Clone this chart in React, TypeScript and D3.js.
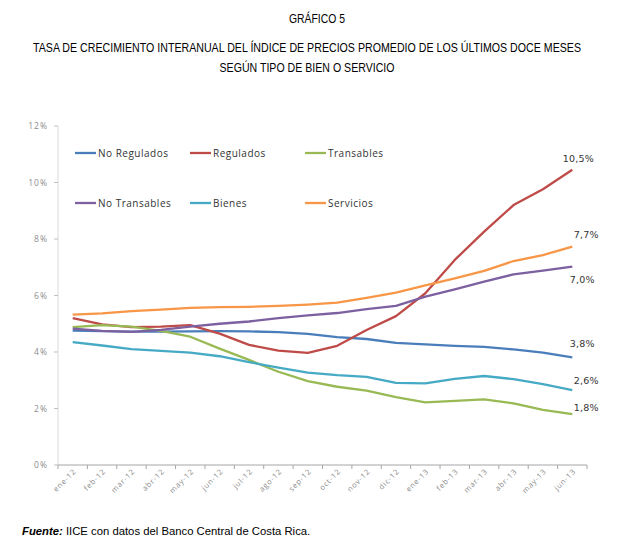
import React from "react";
import * as d3 from "d3";

const categories = ["ene-12","feb-12","mar-12","abr-12","may-12","jun-12","jul-12","ago-12","sep-12","oct-12","nov-12","dic-12","ene-13","feb-13","mar-13","abr-13","may-13","jun-13"];
const noRegulados = [4.76,4.74,4.72,4.72,4.73,4.74,4.73,4.7,4.64,4.53,4.46,4.32,4.27,4.22,4.18,4.09,3.98,3.81];
const regulados = [5.2,4.98,4.88,4.9,4.95,4.65,4.25,4.05,3.97,4.22,4.78,5.27,6.08,7.26,8.26,9.2,9.76,10.45];
const transables = [4.88,4.95,4.9,4.75,4.54,4.12,3.72,3.3,2.97,2.77,2.63,2.4,2.22,2.27,2.32,2.18,1.95,1.8];
const noTransables = [4.83,4.75,4.71,4.78,4.9,5.0,5.08,5.2,5.3,5.38,5.52,5.63,5.96,6.22,6.49,6.75,6.88,7.02];
const bienes = [4.35,4.23,4.1,4.04,3.98,3.85,3.64,3.45,3.27,3.18,3.12,2.91,2.89,3.05,3.15,3.04,2.86,2.65];
const servicios = [5.32,5.37,5.45,5.5,5.56,5.59,5.6,5.63,5.68,5.75,5.92,6.1,6.36,6.61,6.87,7.22,7.43,7.73];
const yTicks = [0,2,4,6,8,10,12];
const endLabels = ["3,8%","10,5%","1,8%","7,0%","2,6%","7,7%"];

const series = [
  { name: "No Regulados", values: noRegulados, color: "#4a7ebb" },
  { name: "Regulados", values: regulados, color: "#be4b48" },
  { name: "Transables", values: transables, color: "#98b954" },
  { name: "No Transables", values: noTransables, color: "#7d60a0" },
  { name: "Bienes", values: bienes, color: "#46aac5" },
  { name: "Servicios", values: servicios, color: "#f79646" },
];

const labelOffsets = [
  [10, -13], [6, -11], [14, -6], [10, 13], [14, -9], [14, -12],
];
const legendPos = [
  [75, 153], [190, 153], [305, 153], [75, 203], [190, 203], [305, 203],
];

const SX = 0.86;

export default function App() {
  const W = 634, H = 553;
  const left = 58, right = 587, top = 126, bottom = 465;
  const x = d3.scaleBand<string>().domain(categories).range([left, right]).padding(0);
  const y = d3.scaleLinear().domain([0, 12]).range([bottom, top]);
  const cx = (c: string) => (x(c) as number) + x.bandwidth() / 2;
  const line = d3.line<number>().x((_, i) => cx(categories[i])).y((v) => y(v));
  const bounds = categories.map((c) => x(c) as number).concat([right]);

  const titles: [string, number, number, number][] = [
    ["GRÁFICO 5", 317, 23, 56],
    ["TASA DE CRECIMIENTO INTERANUAL DEL ÍNDICE DE PRECIOS PROMEDIO DE LOS ÚLTIMOS DOCE MESES", 307, 52, 548],
    ["SEGÚN TIPO DE BIEN O SERVICIO", 307, 72, 175],
  ];

  return (
    <svg width={W} height={H} style={{ position: "absolute", left: 0, top: 0, background: "#fff" }}>
      <rect x={0} y={0} width={W} height={H} fill="#fff" />
      <g fontFamily="'Liberation Sans', Arial, sans-serif" fill="#000" textAnchor="middle">
        {titles.map(([t, tx, ty, tl]) => (
          <text key={t} transform={`translate(${tx},${ty}) scale(${SX},1)`} x={0} y={0} fontSize={12} textLength={tl / SX} lengthAdjust="spacingAndGlyphs">{t}</text>
        ))}
      </g>

      <line x1={left} x2={left} y1={top} y2={bottom} stroke="#d9d9d9" strokeWidth={1} />
      {yTicks.map((t) => (
        <g key={t}>
          <line x1={left - 4} x2={left} y1={y(t)} y2={y(t)} stroke="#bfbfbf" />
          <text x={48} y={y(t) + 3} fontSize={8.5} fill="#8c8c8c" textAnchor="end" letterSpacing={1} fontFamily="'Open Sans', sans-serif">{t}%</text>
        </g>
      ))}
      <line x1={left} x2={right} y1={bottom} y2={bottom} stroke="#a6a6a6" strokeWidth={1} />
      {bounds.map((b, i) => (
        <line key={i} x1={b} x2={b} y1={bottom} y2={bottom + 4} stroke="#a6a6a6" />
      ))}
      {categories.map((c) => (
        <text key={c} transform={`translate(${cx(c) + 4},${bottom + 7}) rotate(-45)`} fontSize={7.5} fill="#8c8c8c" textAnchor="end" letterSpacing={0.8} fontFamily="'Open Sans', sans-serif">{c}</text>
      ))}

      {series.map((s) => (
        <path key={s.name} d={line(s.values) as string} fill="none" stroke={s.color} strokeWidth={2.3} strokeLinejoin="round" />
      ))}

      {series.map((s, i) => {
        const last = s.values.length - 1;
        const px = cx(categories[last]) + labelOffsets[i][0];
        const py = y(s.values[last]) + labelOffsets[i][1] + 3;
        return (
          <text key={s.name} x={px} y={py} fontSize={9.5} fill="#333" textAnchor="middle" fontFamily="'DejaVu Sans', sans-serif" letterSpacing={0.2}>{endLabels[i]}</text>
        );
      })}

      {series.map((s, i) => (
        <g key={s.name}>
          <line x1={legendPos[i][0]} x2={legendPos[i][0] + 21} y1={legendPos[i][1]} y2={legendPos[i][1]} stroke={s.color} strokeWidth={2.3} />
          <text x={legendPos[i][0] + 23} y={legendPos[i][1] + 3.5} fontSize={10} fill="#333" letterSpacing={0.5} fontFamily="'Open Sans', sans-serif">{s.name}</text>
        </g>
      ))}

      <text x={22} y={535} fontSize={11.3} fontFamily="'Liberation Sans', Arial, sans-serif" fill="#000">
        <tspan fontWeight="bold" fontStyle="italic">Fuente:</tspan> IICE con datos del Banco Central de Costa Rica.
      </text>
    </svg>
  );
}
